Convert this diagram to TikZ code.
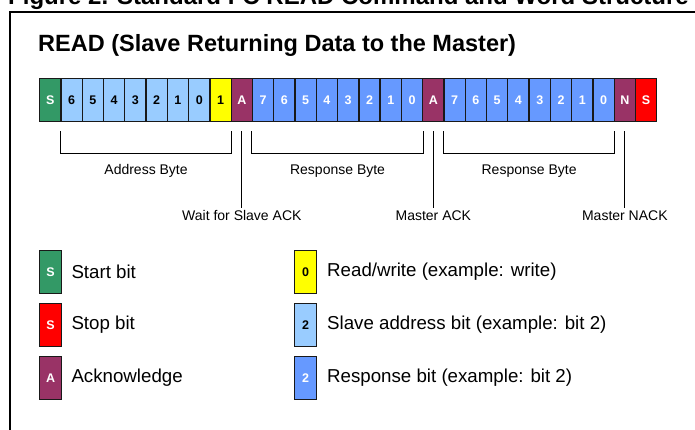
\documentclass[tikz,border=0pt]{standalone}
\usepackage{fontspec}
\setmainfont{Liberation Sans}
\usepackage{tikz}
\usetikzlibrary{positioning,calc}

\definecolor{startgreen}{HTML}{339966}
\definecolor{addrblue}{HTML}{99CCFF}
\definecolor{respblue}{HTML}{6699FF}
\definecolor{ackpurple}{HTML}{993366}
\definecolor{rwyellow}{HTML}{FFFF00}
\definecolor{stopred}{HTML}{FF0000}

\tikzset{
  bitbox/.style={draw=black!90, line width=1.3pt, minimum width=21.28pt,
    minimum height=43pt, inner sep=0pt, anchor=north west,
    font=\bfseries\fontsize{12.5}{13}\selectfont},
  keybox/.style={bitbox, minimum width=22pt},
  keytext/.style={inner sep=2pt, font=\fontsize{18.7}{20}\selectfont},
  bytelabel/.style={inner sep=2pt, font=\fontsize{14}{15}\selectfont},
  brace/.style={line width=0.9pt}
}

\begin{document}
\begin{tikzpicture}[x=1pt, y=-1pt]
  \useasboundingbox (0,0) rectangle (695,430);

  % Figure title (cut off at top) and frame
  \node[anchor=base west, inner sep=0pt, font=\bfseries\fontsize{24}{26}\selectfont]
    (figtitle) at (8,4.5) {Figure 2. Standard I²C READ Command and Word Structure};
  \draw[line width=2.3pt] (10,430) -- (10,12.3) -- (695,12.3);

  % Subtitle
  \node[anchor=west, inner sep=2pt, font=\bfseries\fontsize{23.5}{25}\selectfont]
    (subtitle) at (36,45) {READ (Slave Returning Data to the Master)};

  % Bit frame
  \foreach \txt/\fc/\tc [count=\i from 0] in {
      S/startgreen/white,
      6/addrblue/black, 5/addrblue/black, 4/addrblue/black, 3/addrblue/black,
      2/addrblue/black, 1/addrblue/black, 0/addrblue/black,
      1/rwyellow/black, A/ackpurple/white,
      7/respblue/white, 6/respblue/white, 5/respblue/white, 4/respblue/white,
      3/respblue/white, 2/respblue/white, 1/respblue/white, 0/respblue/white,
      A/ackpurple/white,
      7/respblue/white, 6/respblue/white, 5/respblue/white, 4/respblue/white,
      3/respblue/white, 2/respblue/white, 1/respblue/white, 0/respblue/white,
      N/ackpurple/white, S/stopred/white} {
    \node[bitbox, fill=\fc, text=\tc] (b\i) at ({39+21.28*\i},78) {\txt};
  }

  % Byte brackets
  \draw[brace] ([yshift=-9pt]b1.south west) |- ([yshift=-31pt]b8.south east)
    -- ([yshift=-9pt]b8.south east);
  \draw[brace] ([yshift=-9pt]b10.south west) |- ([yshift=-31pt]b17.south east)
    -- ([yshift=-9pt]b17.south east);
  \draw[brace] ([yshift=-9pt]b19.south west) |- ([yshift=-31pt]b26.south east)
    -- ([yshift=-9pt]b26.south east);
  \node[bytelabel] (addrbyte) at ($(b1.south west)!0.5!(b8.south east)+(0,49)$) {Address Byte};
  \node[bytelabel] (respbyteA) at ($(b10.south west)!0.5!(b17.south east)+(0,49)$) {Response Byte};
  \node[bytelabel] (respbyteB) at ($(b19.south west)!0.5!(b26.south east)+(0,49)$) {Response Byte};

  % Acknowledge markers
  \node[bytelabel, anchor=north] (waitack) at ($(b9.south)+(0,86)$) {Wait for Slave ACK};
  \node[bytelabel, anchor=north] (mack) at ($(b18.south)+(0,86)$) {Master ACK};
  \node[bytelabel, anchor=north] (mnack) at ($(b27.south)+(0,86)$) {Master NACK};
  \draw[brace] ([yshift=-9pt]b9.south) -- (waitack.north);
  \draw[brace] ([yshift=-9pt]b18.south) -- (mack.north);
  \draw[brace] ([yshift=-9pt]b27.south) -- (mnack.north);

  % Legend
  \foreach \txt/\fc/\tc/\desc [count=\i] in {
      S/startgreen/white/{Start bit},
      S/stopred/white/{Stop bit},
      A/ackpurple/white/{Acknowledge}} {
    \node[keybox, fill=\fc, text=\tc] (kl\i) at (39,{250+53*(\i-1)}) {\txt};
    \node[keytext, right=7pt of kl\i] (klt\i) {\desc};
  }
  \foreach \txt/\fc/\tc/\desc [count=\i] in {
      0/rwyellow/black/{Read/write (example: write)},
      2/addrblue/black/{Slave address bit (example: bit 2)},
      2/respblue/white/{Response bit (example: bit 2)}} {
    \node[keybox, fill=\fc, text=\tc] (kr\i) at (294,{250+53*(\i-1)}) {\txt};
    \node[keytext, right=7.7pt of kr\i] (krt\i) {\desc};
  }
\end{tikzpicture}
\end{document}
